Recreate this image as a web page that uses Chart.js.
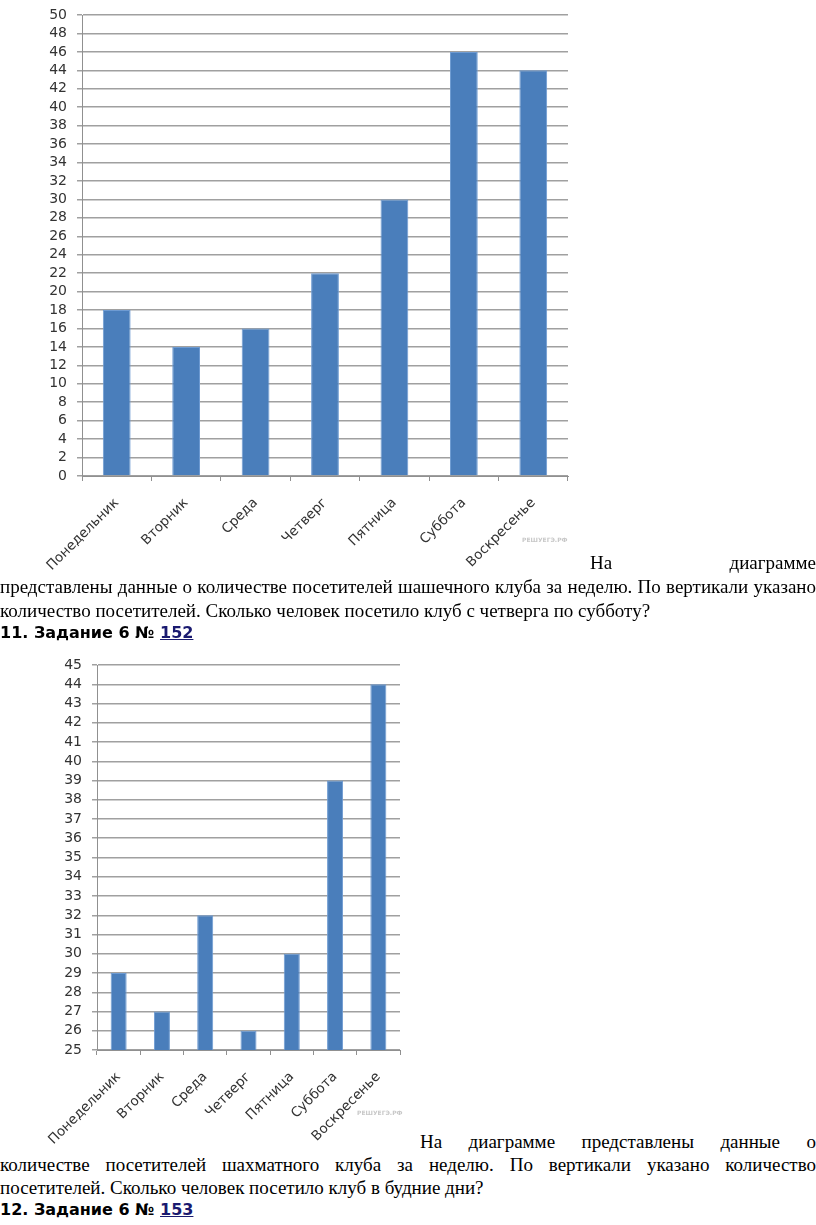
<!DOCTYPE html>
<html lang="ru">
<head>
<meta charset="UTF-8">
<title>Посетители клуба</title>
<script src="https://cdn.jsdelivr.net/npm/chart.js"></script>
<style>
    body { margin: 0; background: #fff; width: 816px; height: 1225px; position: relative; overflow: hidden; }
    canvas { position: absolute; left: 0; }
    .line { position: absolute; font-family: "Liberation Serif", "Times New Roman", serif; font-size: 19px; color: #000; white-space: nowrap; line-height: 22px; }
    .just { text-align: justify; text-align-last: justify; white-space: normal; }
    .task { position: absolute; left: 0; font-family: "DejaVu Sans", Verdana, sans-serif; font-weight: bold; font-size: 16px; color: #000; line-height: 20px; }
    .task a { color: #1a1a70; text-decoration: underline; }
    .mark { position: absolute; font-family: "DejaVu Sans", sans-serif; font-size: 6px; font-weight: bold; color: #c8c8c8; }
</style>
</head>
<body>
<canvas id="chart1" width="590" height="600" style="top:0"></canvas>
<canvas id="chart2" width="420" height="500" style="top:650px"></canvas>

<div class="mark" style="left:522px;top:536px">РЕШУЕГЭ.РФ</div>
<div class="mark" style="left:357px;top:1109px">РЕШУЕГЭ.РФ</div>

<div class="line just" style="left:590px;top:552px;width:226px">На диаграмме</div>
<div class="line just" style="left:0;top:576px;width:816px">представлены данные о количестве посетителей шашечного клуба за неделю. По вертикали указано</div>
<div class="line" style="left:0;top:600px">количество посетителей. Сколько человек посетило клуб с четверга по субботу?</div>
<div class="task" style="top:623px">11. Задание 6 № <a>152</a></div>

<div class="line just" style="left:420px;top:1131px;width:396px">На диаграмме представлены данные о</div>
<div class="line just" style="left:0;top:1154px;width:816px">количестве посетителей шахматного клуба за неделю. По вертикали указано количество</div>
<div class="line" style="left:0;top:1177px">посетителей. Сколько человек посетило клуб в будние дни?</div>
<div class="task" style="top:1200px">12. Задание 6 № <a>153</a></div>

<script>
    const days = ['Понедельник', 'Вторник', 'Среда', 'Четверг', 'Пятница', 'Суббота', 'Воскресенье'];
    const checkersVisitors = [18, 14, 16, 22, 30, 46, 44];
    const chessVisitors = [29, 27, 32, 26, 30, 39, 44];

    function makeChart(id, values, opts) {
        const ctx = document.getElementById(id).getContext('2d');
        return new Chart(ctx, {
            type: 'bar',
            data: {
                labels: days,
                datasets: [{
                    data: values,
                    backgroundColor: '#4a7ebb',
                    borderColor: '#6e9bd2',
                    borderWidth: 1,
                    categoryPercentage: 1,
                    barPercentage: opts.barPct
                }]
            },
            options: {
                responsive: false,
                animation: false,
                layout: { padding: { top: 15, right: opts.right, left: 0, bottom: 0 } },
                plugins: { legend: { display: false }, tooltip: { enabled: false } },
                scales: {
                    x: {
                        afterFit: function(scale) {
                            scale.height = opts.xHeight;
                            scale.paddingLeft = 0;
                            scale.paddingRight = 0;
                        },
                        grid: { display: true, drawOnChartArea: false, offset: true, tickLength: 5, color: '#909090' },
                        border: { color: '#909090' },
                        ticks: {
                            minRotation: 45, maxRotation: 45, autoSkip: false,
                            color: '#333', padding: 14,
                            font: { family: 'DejaVu Sans', size: 13.5 }
                        }
                    },
                    y: {
                        min: opts.min, max: opts.max,
                        afterFit: function(scale) {
                            scale.width = opts.yWidth;
                            scale.paddingTop = 0;
                            scale.paddingBottom = 0;
                        },
                        grid: { color: '#a0a0a0', lineWidth: 1.5, tickLength: 5 },
                        border: { color: '#909090' },
                        ticks: {
                            stepSize: opts.step, autoSkip: false, color: '#333', padding: 10,
                            font: { family: 'DejaVu Sans', size: 14 }
                        }
                    }
                }
            }
        });
    }

    makeChart('chart1', checkersVisitors, { min: 0, max: 50, step: 2, barPct: 0.4, right: 22, xHeight: 124, yWidth: 82 });
    makeChart('chart2', chessVisitors, { min: 25, max: 45, step: 1, barPct: 0.37, right: 20, xHeight: 100, yWidth: 97 });
</script>
</body>
</html>
